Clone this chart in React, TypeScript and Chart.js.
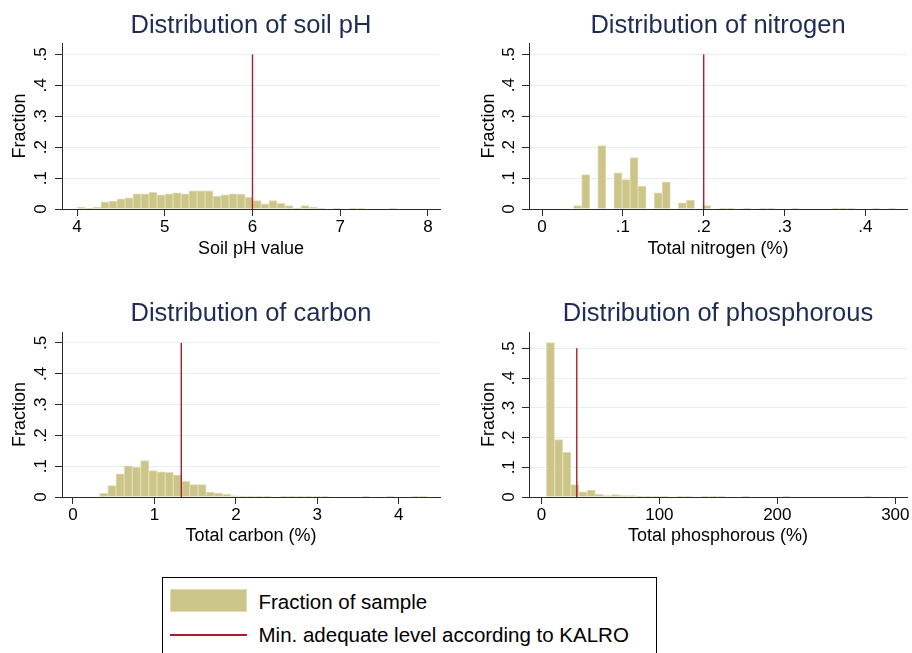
import React, { useEffect, useRef } from "react";
import { Chart, registerables } from "chart.js";

Chart.register(...registerables);

const FONT = '"Liberation Sans", Arial, Helvetica, sans-serif';
const BAR_FILL = "rgb(204,197,137)";
const BAR_EDGE = "rgb(224,219,178)";
const LINE_RED = "rgb(168,32,44)";
const TITLE_COLOR = "rgb(30,45,85)";
const GRID_COLOR = "rgb(230,238,241)";
const AXIS_COLOR = "#2a2a2a";

// ---- text ----
const panelTitles = [
  "Distribution of soil pH",
  "Distribution of nitrogen",
  "Distribution of carbon",
  "Distribution of phosphorous",
];
const xAxisTitles = ["Soil pH value", "Total nitrogen (%)", "Total carbon (%)", "Total phosphorous (%)"];
const yAxisTitle = "Fraction";
const legendLabels = ["Fraction of sample", "Min. adequate level according to KALRO"];

// ---- y axis (shared) ----
const yTickValues = [0, 0.1, 0.2, 0.3, 0.4, 0.5];
const yTickLabels = ["0", ".1", ".2", ".3", ".4", ".5"];

// ---- soil pH ----
const phBinStart = 4.0;
const phBinWidth = 0.0912;
const phFractions = [
  0.005, 0.002, 0.005, 0.023, 0.026, 0.033, 0.036, 0.049, 0.049, 0.054,
  0.046, 0.049, 0.052, 0.049, 0.059, 0.059, 0.059, 0.042, 0.046, 0.049,
  0.048, 0.038, 0.027, 0.017, 0.027, 0.018, 0.011, 0.002, 0.011, 0.005,
  0.001, 0, 0.001, 0, 0.001, 0.001, 0, 0, 0, 0.001,
];
const phMinLevel = 6;
const phXTicks = [4, 5, 6, 7, 8];
const phXTickLabels = ["4", "5", "6", "7", "8"];
const phXRange = [3.829, 8.137];

// ---- nitrogen ----
const nBinStart = 0.0391;
const nBinWidth = 0.00997;
const nFractions = [
  0.011, 0.111, 0, 0.205, 0, 0.117, 0.095, 0.166, 0.074, 0,
  0.052, 0.088, 0, 0.02, 0.029, 0, 0.011, 0, 0.002, 0.002,
  0, 0.002, 0, 0.002, 0.002, 0, 0, 0.002, 0, 0,
  0, 0, 0.002, 0.002, 0.002, 0, 0, 0.002, 0, 0.002,
];
const nMinLevel = 0.2;
const nXTicks = [0, 0.1, 0.2, 0.3, 0.4];
const nXTickLabels = ["0", ".1", ".2", ".3", ".4"];
const nXRange = [-0.0161, 0.4515];

// ---- carbon ----
const cBinStart = 0.327;
const cBinWidth = 0.1006;
const cFractions = [
  0.012, 0.037, 0.075, 0.101, 0.096, 0.118, 0.086, 0.082, 0.08, 0.071,
  0.051, 0.04, 0.04, 0.016, 0.013, 0.009, 0.004, 0.003, 0.003, 0.002,
  0.002, 0, 0.002, 0.002, 0.002, 0.002, 0.002, 0.002, 0, 0,
  0, 0, 0.002, 0, 0, 0.002, 0, 0, 0.002, 0.002,
];
const cMinLevel = 1.33;
const cXTicks = [0, 1, 2, 3, 4];
const cXTickLabels = ["0", "1", "2", "3", "4"];
const cXRange = [-0.135, 4.507];

// ---- phosphorous ----
const pBinStart = 4.24;
const pBinWidth = 6.9;
const pFractions = [
  0.519, 0.193, 0.15, 0.042, 0.017, 0.023, 0.009, 0.005, 0.008, 0.005,
  0.005, 0.003, 0.002, 0.002, 0.001, 0, 0.002, 0.002, 0, 0.002,
  0.002, 0.002, 0, 0, 0.002, 0, 0, 0, 0, 0.002,
  0, 0, 0, 0, 0, 0, 0, 0, 0, 0.002,
];
const pMinLevel = 30;
const pXTicks = [0, 100, 200, 300];
const pXTickLabels = ["0", "100", "200", "300"];
const pXRange = [-10.5, 309.9];

const CANVAS_W = 456;
const CANVAS_H = 270;
const X_AXIS_H = 61;
const TITLE_SIZE = 25.5;
const TICK_SIZE = 17;
const AXIS_TITLE_SIZE = 18;

const panels = [
  {
    title: panelTitles[0], xTitle: xAxisTitles[0], binStart: phBinStart, binWidth: phBinWidth,
    fractions: phFractions, minLevel: phMinLevel, xTicks: phXTicks, xTickLabels: phXTickLabels,
    xRange: phXRange, yMax: 0.537, left: 0, top: 0, yAxisW: 62, padRight: 16,
    titleBox: 43, titleCenter: 25.5, yTitleX: 20, yTickX: 41, xTitleFromAxisBottom: 21.2,
  },
  {
    title: panelTitles[1], xTitle: xAxisTitles[1], binStart: nBinStart, binWidth: nBinWidth,
    fractions: nFractions, minLevel: nMinLevel, xTicks: nXTicks, xTickLabels: nXTickLabels,
    xRange: nXRange, yMax: 0.5365, left: 456, top: 0, yAxisW: 73, padRight: 5,
    titleBox: 43, titleCenter: 25.5, yTitleX: 32.7, yTickX: 53.3, xTitleFromAxisBottom: 21.2,
  },
  {
    title: panelTitles[2], xTitle: xAxisTitles[2], binStart: cBinStart, binWidth: cBinWidth,
    fractions: cFractions, minLevel: cMinLevel, xTicks: cXTicks, xTickLabels: cXTickLabels,
    xRange: cXRange, yMax: 0.5357, left: 0, top: 288, yAxisW: 62, padRight: 16,
    titleBox: 44, titleCenter: 25.7, yTitleX: 20, yTickX: 41, xTitleFromAxisBottom: 22.3,
  },
  {
    title: panelTitles[3], xTitle: xAxisTitles[3], binStart: pBinStart, binWidth: pBinWidth,
    fractions: pFractions, minLevel: pMinLevel, xTicks: pXTicks, xTickLabels: pXTickLabels,
    xRange: pXRange, yMax: 0.555, left: 456, top: 288, yAxisW: 73, padRight: 5,
    titleBox: 44, titleCenter: 25.7, yTitleX: 32.7, yTickX: 53.3, xTitleFromAxisBottom: 22.3,
  },
];

function makeConfig(p: any): any {
  const bars = p.fractions.map((f: number, i: number) => ({
    x: p.binStart + (i + 0.5) * p.binWidth,
    y: f,
  }));
  const titleLH = TITLE_SIZE * 1.2;
  const titlePadTop = p.titleCenter - titleLH / 2;
  const titlePadBottom = p.titleBox - titleLH - titlePadTop;
  const axisTitleLH = AXIS_TITLE_SIZE * 1.2;
  const widestTick = TICK_SIZE * 0.834;
  const yTickPad = p.yAxisW - 7 - widestTick / 2 - p.yTickX;

  return {
    type: "bar",
    data: {
      datasets: [
        {
          type: "line",
          data: [
            { x: p.minLevel, y: 0 },
            { x: p.minLevel, y: 0.5 },
          ],
          borderColor: LINE_RED,
          borderWidth: 1.4,
          pointRadius: 0,
          fill: false,
          order: 0,
        },
        {
          type: "bar",
          data: bars,
          backgroundColor: BAR_FILL,
          borderColor: BAR_EDGE,
          borderWidth: 1,
          barPercentage: 1,
          categoryPercentage: 1,
          order: 1,
        },
      ],
    },
    options: {
      animation: false,
      responsive: false,
      maintainAspectRatio: false,
      events: [],
      layout: { padding: { left: 0, right: p.padRight, top: 0, bottom: 0 } },
      plugins: {
        legend: { display: false },
        tooltip: { enabled: false },
        title: {
          display: true,
          text: p.title,
          fullSize: false,
          color: TITLE_COLOR,
          font: { family: FONT, size: TITLE_SIZE, weight: "normal", lineHeight: 1.2 },
          padding: { top: titlePadTop, bottom: titlePadBottom },
        },
      },
      scales: {
        x: {
          type: "linear",
          min: p.xRange[0],
          max: p.xRange[1],
          offset: false,
          afterBuildTicks: (s: any) => {
            s.ticks = p.xTicks.map((v: number) => ({ value: v }));
          },
          afterFit: (s: any) => {
            s.height = X_AXIS_H;
          },
          ticks: {
            autoSkip: false,
            maxRotation: 0,
            minRotation: 0,
            padding: 1.3,
            color: "#000",
            font: { family: FONT, size: TICK_SIZE },
            callback: (_v: any, i: number) => p.xTickLabels[i],
          },
          grid: {
            offset: false,
            drawOnChartArea: false,
            drawTicks: true,
            tickLength: 7,
            tickColor: AXIS_COLOR,
            tickWidth: 1,
          },
          border: { display: true, color: AXIS_COLOR, width: 1 },
          title: {
            display: true,
            text: p.xTitle,
            color: "#000",
            font: { family: FONT, size: AXIS_TITLE_SIZE },
            padding: { top: 0, bottom: p.xTitleFromAxisBottom - axisTitleLH / 2 },
          },
        },
        y: {
          type: "linear",
          min: 0,
          max: p.yMax,
          afterBuildTicks: (s: any) => {
            s.ticks = yTickValues.map((v) => ({ value: v }));
          },
          afterFit: (s: any) => {
            s.width = p.yAxisW;
          },
          ticks: {
            autoSkip: false,
            minRotation: 90,
            maxRotation: 90,
            crossAlign: "center",
            padding: yTickPad,
            color: "#000",
            font: { family: FONT, size: TICK_SIZE },
            callback: (_v: any, i: number) => yTickLabels[i],
          },
          grid: {
            color: (ctx: any) => (ctx.tick && ctx.tick.value === 0 ? "rgba(0,0,0,0)" : GRID_COLOR),
            lineWidth: 1,
            drawTicks: true,
            tickLength: 7,
            tickColor: AXIS_COLOR,
            tickWidth: 1,
          },
          border: { display: true, color: AXIS_COLOR, width: 1 },
          title: {
            display: true,
            text: yAxisTitle,
            color: "#000",
            font: { family: FONT, size: AXIS_TITLE_SIZE },
            padding: { top: p.yTitleX - axisTitleLH / 2, bottom: 0 },
          },
        },
      },
    },
  };
}

export default function App() {
  const r0 = useRef<HTMLCanvasElement | null>(null);
  const r1 = useRef<HTMLCanvasElement | null>(null);
  const r2 = useRef<HTMLCanvasElement | null>(null);
  const r3 = useRef<HTMLCanvasElement | null>(null);
  const refs = [r0, r1, r2, r3];

  useEffect(() => {
    const charts = panels.map((p, i) => new Chart(refs[i].current as HTMLCanvasElement, makeConfig(p)));
    return () => charts.forEach((c) => c.destroy());
  }, []);

  const legendFont = { fontFamily: FONT, fontSize: "20.5px", lineHeight: "24px", color: "#000", whiteSpace: "nowrap" as const };

  return (
    <div
      style={{
        position: "absolute",
        left: 0,
        top: 0,
        width: 912,
        height: 653,
        overflow: "hidden",
        background: "#fff",
      }}
    >
      {panels.map((p, i) => (
        <canvas
          key={i}
          ref={refs[i]}
          width={CANVAS_W}
          height={CANVAS_H}
          style={{ position: "absolute", left: p.left, top: p.top, width: CANVAS_W, height: CANVAS_H }}
        />
      ))}
      {/* legend */}
      <div
        style={{
          position: "absolute",
          left: 162,
          top: 577,
          width: 495,
          height: 110,
          border: "1px solid #000",
          boxSizing: "border-box",
        }}
      />
      <div
        style={{
          position: "absolute",
          left: 169.5,
          top: 588.5,
          width: 77,
          height: 23,
          background: BAR_FILL,
          border: `1px solid ${BAR_EDGE}`,
          boxSizing: "border-box",
        }}
      />
      <div style={{ position: "absolute", left: 258.5, top: 589.5, ...legendFont }}>{legendLabels[0]}</div>
      <div
        style={{
          position: "absolute",
          left: 169.5,
          top: 634.3,
          width: 77,
          height: 1.4,
          background: LINE_RED,
        }}
      />
      <div style={{ position: "absolute", left: 258.5, top: 623.3, ...legendFont }}>{legendLabels[1]}</div>
    </div>
  );
}
